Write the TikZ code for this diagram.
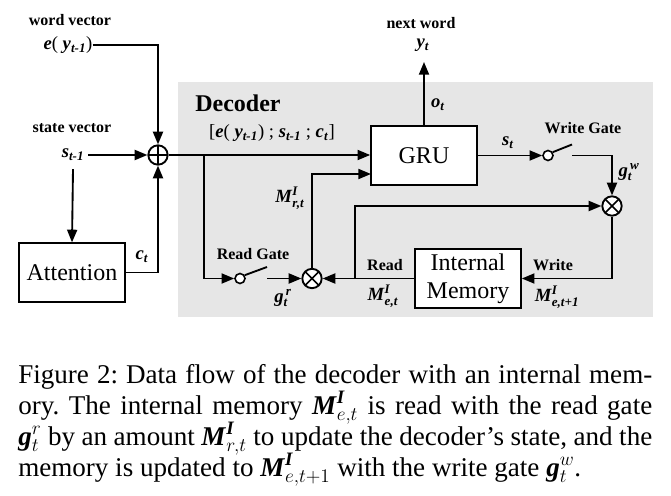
\documentclass[tikz,border=0pt]{standalone}
\usepackage{amsmath}
\usepackage{fontspec}
\setmainfont{Liberation Serif}
\usetikzlibrary{arrows.meta}
\newcommand{\bi}[1]{\textbf{\textit{#1}}}
\definecolor{decgray}{RGB}{230,230,230}
\frenchspacing
\tikzset{
  conn/.style={line width=1.4pt},
  arr/.style={conn,-{Triangle[length=9.5pt,width=7.5pt]}},
  box/.style={draw,line width=1.2pt,fill=white,minimum width=79.5pt,minimum height=44pt,inner sep=1pt,font=\fontsize{18}{19}\selectfont},
  blab/.style={inner sep=0pt,font=\fontsize{12}{13}\selectfont\bfseries},
  mlab/.style={inner sep=0pt,font=\fontsize{14}{15}\selectfont},
  op/.style={circle,draw,line width=1.4pt,fill=white,minimum size=14.5pt,inner sep=0pt},
  oplus/.style={op,path picture={\draw[line width=1.2pt] (path picture bounding box.north) -- (path picture bounding box.south) (path picture bounding box.west) -- (path picture bounding box.east);}},
  otimes/.style={op,path picture={\draw[line width=1.2pt] (path picture bounding box.north west) -- (path picture bounding box.south east) (path picture bounding box.south west) -- (path picture bounding box.north east);}},
  swc/.style={circle,draw,line width=1.2pt,fill=white,minimum size=7.5pt,inner sep=0pt},
  capline/.style={anchor=base west,inner sep=0pt,font=\fontsize{20.3}{23}\selectfont},
}
\begin{document}
\begin{tikzpicture}[x=0.75pt,y=-0.75pt]
\useasboundingbox (0,0) rectangle (671,496);
% decoder background
\fill[decgray] (178,82) rectangle (653,317);
\node[inner sep=0pt,font=\fontsize{18}{19}\selectfont\bfseries] (dec) at (238,103) {Decoder};

% boxes and operators
\node[box] (att) at (72,272.5) {Attention};
\node[box] (gru) at (424,155.5) {GRU};
\node[box,align=center,font=\fontsize{18}{21}\selectfont] (mem) at (468,278.5) {Internal\\Memory};
\node[oplus] (plus) at (158,155) {};
\node[otimes] (mul1) at (312,278.5) {};
\node[otimes] (mul2) at (612,206) {};
\node[swc] (rg) at (240,278.5) {};
\node[swc] (wg) at (548,155.5) {};

% labels
\node[blab] (wv) at (70,20) {word vector};
\node[mlab] (ey) at (68,45) {\bi{e}( \bi{y}$_{\bi{t-1}}$)};
\node[blab] (sv) at (72,128) {state vector};
\node[mlab] (s1) at (73,155) {\bi{s}$_{\bi{t-1}}$};
\node[mlab] (ct) at (142,257) {\bi{c}$_{\bi{t}}$};
\node[mlab] (cat) at (272,133) {[\bi{e}( \bi{y}$_{\bi{t-1}}$) ; \bi{s}$_{\bi{t-1}}$ ; \bi{c}$_{\bi{t}}$]};
\node[mlab] (mrt) at (290,198) {$\bi{M}^{\bi{I}}_{\bi{r,t}}$};
\node[blab] (rgl) at (253,254) {Read Gate};
\node[mlab] (gr) at (283,298) {$\bi{g}^{\,\bi{r}}_{\bi{t}}$};
\node[mlab] (ot) at (438,105) {\bi{o}$_{\bi{t}}$};
\node[blab] (nw) at (421,23) {next word};
\node[mlab] (yt) at (423,45) {\bi{y}$_{\bi{t}}$};
\node[mlab] (st) at (508,143) {\bi{s}$_{\bi{t}}$};
\node[blab] (wgl) at (583,128) {Write Gate};
\node[mlab] (gw) at (629,172) {$\bi{g}^{\,\bi{w}}_{\bi{t}}$};
\node[blab] (rd) at (385,265) {Read};
\node[mlab] (met) at (383,296) {$\bi{M}^{\bi{I}}_{\bi{e,t}}$};
\node[blab] (wr) at (553,265) {Write};
\node[mlab] (me1) at (557,297) {$\bi{M}^{\bi{I}}_{\bi{e,t+1}}$};

% coordinates
\coordinate (br) at (204,155);
\coordinate (br2) at (355,278.5);
\coordinate (rgb) at (267,267);
\coordinate (rgo) at (267,278.5);
\coordinate (wgb) at (572,144.5);
\coordinate (wgo) at (572,155.5);
\coordinate (yout) at (424,62);
\coordinate (g2) at (371,174);

% connectors
\draw[arr] (ey.east) -| (plus.north);
\draw[arr] (s1.east) ++(4,0) -- (plus.west);
\draw[arr] (s1.south) ++(0,8) -- (att.north);
\draw[arr] (att.east) -| (plus.south);
\draw[arr] (plus.east) -- (plus -| gru.west);
\draw[arr] (br) |- (rg.west);
\draw[conn] (rg.35) -- (rgb);
\draw[arr] (rgo) -- (mul1.west);
\draw[arr] (mul1.north) |- (g2);
\draw[arr] (mem.west) -- (mul1.east);
\draw[arr] (br2) |- (mul2.west);
\draw[arr] (gru.east) -- (wg.west);
\draw[conn] (wg.35) -- (wgb);
\draw[arr] (wgo) -| (mul2.north);
\draw[arr] (mul2.south) |- (mem.east);
\draw[arr] (gru.north) -- (yout);

% caption
\node[capline] (c1) at (18,383) {\makebox[475.5pt][s]{Figure 2: Data flow of the decoder with an internal mem-}};
\node[capline] (c2) at (18,414) {\makebox[475.5pt][s]{ory. The internal memory $\bi{M}^{\bi{I}}_{e,t}$ is read with the read gate}};
\node[capline] (c3) at (18,445) {\makebox[475.5pt][s]{$\bi{g}^{r}_{t}$ by an amount $\bi{M}^{\bi{I}}_{r,t}$ to update the decoder's state, and the}};
\node[capline] (c4) at (18,476) {memory is updated to $\bi{M}^{\bi{I}}_{e,t+1}$ with the write gate $\bi{g}^{w}_{t}$.};
\end{tikzpicture}
\end{document}
